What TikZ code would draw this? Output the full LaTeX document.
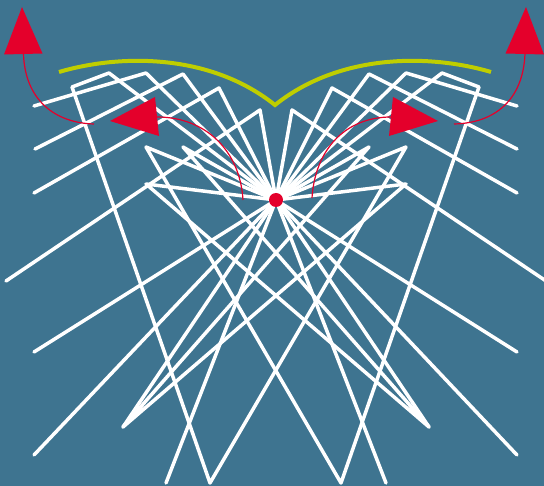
\documentclass[tikz,border=0pt]{standalone}
\definecolor{bgblue}{HTML}{3E7490}
\definecolor{hotred}{HTML}{E4002B}
\definecolor{limeline}{HTML}{BFCE00}
\tikzset{
  spoke/.style={draw=white,line width=3.5pt,line cap=round,line join=round},
  limearc/.style={draw=limeline,line width=4pt,line join=miter},
  thincurve/.style={draw=hotred,line width=1.2pt},
  tri/.style={fill=hotred,draw=none}
}
\begin{document}
\begin{tikzpicture}[x=1pt,y=-1pt]
\fill[bgblue] (0,0) rectangle (544,486);
\useasboundingbox (0,0) rectangle (544,486);
\coordinate (c) at (276,200);
% left apexes and ends
\coordinate (la) at (260,110); \coordinate (le) at (6,281);
\coordinate (lb) at (219,88);  \coordinate (lf) at (34,193);
\coordinate (ld) at (183,74);  \coordinate (lg) at (35,149);
\coordinate (lh) at (146,73);  \coordinate (li) at (34,106);
\coordinate (lj) at (109,73);  \coordinate (lk) at (72,87);
\coordinate (ll) at (210,483);
\coordinate (lm) at (146,147); \coordinate (ln) at (183,147);
\coordinate (lo) at (146,184); \coordinate (lp) at (123,427);
\coordinate (lq) at (34,352);  \coordinate (lr) at (34,455);
\coordinate (ls) at (166,483);
% right apexes and ends
\coordinate (ra) at (292,110); \coordinate (re) at (546,281);
\coordinate (rb) at (332,88);  \coordinate (rf) at (517,193);
\coordinate (rd) at (369,74);  \coordinate (rg) at (517,149);
\coordinate (rh) at (406,73);  \coordinate (ri) at (517,106);
\coordinate (rj) at (442,73);  \coordinate (rk) at (479,87);
\coordinate (rl) at (341,483);
\coordinate (rm) at (406,147); \coordinate (rn) at (369,147);
\coordinate (ro) at (406,184); \coordinate (rp) at (429,427);
\coordinate (rq) at (517,352); \coordinate (rr) at (517,455);
\coordinate (rs) at (386,483);
% white polylines
\draw[spoke] (c) -- (la) -- (le);
\draw[spoke] (c) -- (lb) -- (lf);
\draw[spoke] (c) -- (ld) -- (lg);
\draw[spoke] (c) -- (lh) -- (li);
\draw[spoke] (c) -- (lj) -- (lk) -- (ll) -- (rm) -- (c);
\draw[spoke] (c) -- (rj) -- (rk) -- (rl) -- (lm) -- (c);
\draw[spoke] (c) -- (ln) -- (rp) -- (lo) -- (c);
\draw[spoke] (c) -- (rp);
\draw[spoke] (c) -- (rn) -- (lp) -- (ro) -- (c);
\draw[spoke] (c) -- (lp);
\draw[spoke] (c) -- (lq);
\draw[spoke] (c) -- (lr);
\draw[spoke] (c) -- (ls);
\draw[spoke] (c) -- (ra) -- (re);
\draw[spoke] (c) -- (rb) -- (rf);
\draw[spoke] (c) -- (rd) -- (rg);
\draw[spoke] (c) -- (rh) -- (ri);
\draw[spoke] (c) -- (rq);
\draw[spoke] (c) -- (rr);
\draw[spoke] (c) -- (rs);
% lime arcs
\coordinate (ya) at (59,72); \coordinate (yb) at (275,105); \coordinate (yc) at (491,72);
\draw[limearc] (ya) .. controls (120,54) and (210,53) .. (yb)
               .. controls (340,53) and (430,54) .. (yc);
% thin red curves
\coordinate (p1) at (23.5,54); \coordinate (p2) at (94,124);
\coordinate (p3) at (243,200); \coordinate (p4) at (157,117);
\coordinate (p5) at (312,198); \coordinate (p6) at (391,117);
\coordinate (p7) at (454,124); \coordinate (p8) at (525,54);
\draw[thincurve] (p1) .. controls (25,100) and (55,123) .. (p2);
\draw[thincurve] (p3) .. controls (240,150) and (205,117) .. (p4);
\draw[thincurve] (p5) .. controls (315,150) and (345,117) .. (p6);
\draw[thincurve] (p7) .. controls (495,123) and (523,100) .. (p8);
% triangles
\fill[tri] (22,7) -- (4,54.5) -- (42.5,53.5) -- cycle;
\fill[tri] (526,7) -- (505.5,53.5) -- (544,54.5) -- cycle;
\fill[tri] (110,121) -- (155,97) -- (159,136) -- cycle;
\fill[tri] (438,121) -- (393,97) -- (389,136) -- cycle;
% centre dot
\fill[hotred] (c) circle (7pt);
\end{tikzpicture}
\end{document}
